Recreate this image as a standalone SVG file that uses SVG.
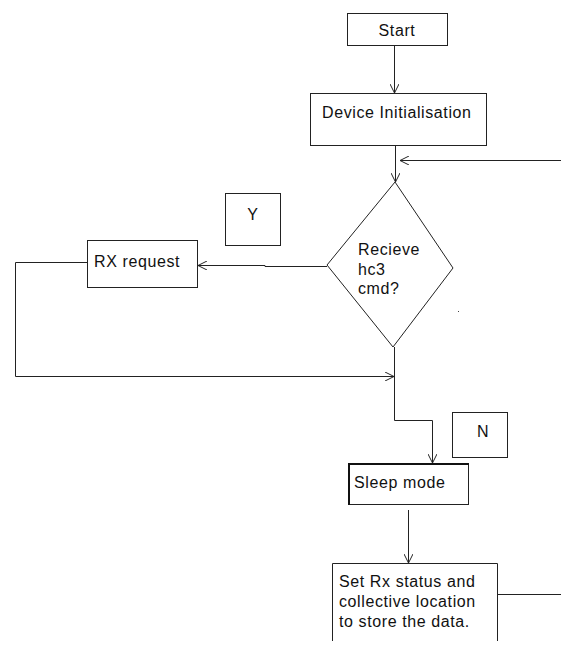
<svg xmlns="http://www.w3.org/2000/svg" width="561" height="650" viewBox="0 0 561 650">
<defs>
<style>
.box{fill:#fff;stroke:#222;stroke-width:1}
.ln{fill:none;stroke:#222;stroke-width:1}
.t{font-family:"Liberation Sans",Arial,sans-serif;font-size:16px;letter-spacing:0.6px;fill:#111}
</style>
<marker id="ah" viewBox="0 0 10 10" refX="10" refY="5" markerWidth="9" markerHeight="9" markerUnits="userSpaceOnUse" orient="auto">
<path d="M0,0 L10,5 L0,10" fill="none" stroke="#222" stroke-width="1.1"/>
</marker>
</defs>
<rect width="561" height="650" fill="#fff"/>
<g id="connectors">
<line class="ln" x1="394.5" y1="45" x2="394.5" y2="93" marker-end="url(#ah)"/>
<line class="ln" x1="395.5" y1="145" x2="395.5" y2="182" marker-end="url(#ah)"/>
<line class="ln" x1="561" y1="160.5" x2="400" y2="160.5" marker-end="url(#ah)"/>
<polyline class="ln" points="327,266.5 265,266.5 265,265.5 198,265.5" marker-end="url(#ah)"/>
<polyline class="ln" points="87,262.5 15.5,262.5 15.5,376.5 394,376.5" marker-end="url(#ah)"/>
<polyline class="ln" points="394.5,347 394.5,420.5 432.5,420.5 432.5,463" marker-end="url(#ah)"/>
<line class="ln" x1="408.5" y1="510" x2="408.5" y2="563" marker-end="url(#ah)"/>
<line class="ln" x1="497" y1="594.5" x2="561" y2="594.5"/>
</g>
<g id="start">
<rect class="box" x="347.5" y="13.5" width="100" height="32"/>
<text class="t" x="397" y="36" text-anchor="middle">Start</text>
</g>
<g id="device-init">
<rect class="box" x="310.5" y="93.5" width="176" height="52"/>
<text class="t" x="322" y="118">Device Initialisation</text>
</g>
<g id="decision">
<polygon class="box" points="395,182 453,268 393,347 327,265"/>
<text class="t" x="358" y="255">Recieve</text>
<text class="t" x="358" y="275">hc3</text>
<text class="t" x="358" y="294">cmd?</text>
</g>
<rect x="458" y="311" width="1" height="1" fill="#444"/>
<g id="label-y">
<rect class="box" x="225.5" y="193.5" width="55" height="52"/>
<text class="t" x="253" y="220" text-anchor="middle">Y</text>
</g>
<g id="rx-request">
<rect class="box" x="87.5" y="240.5" width="110" height="47"/>
<text class="t" x="94" y="267">RX request</text>
</g>
<g id="label-n">
<rect class="box" x="452.5" y="412.5" width="55" height="45"/>
<text class="t" x="483" y="437" text-anchor="middle">N</text>
</g>
<g id="sleep-mode">
<rect class="box" x="348.5" y="463.5" width="120" height="41"/>
<line x1="349" y1="463" x2="349" y2="505" stroke="#111" stroke-width="2"/>
<line x1="348" y1="464" x2="469" y2="464" stroke="#111" stroke-width="2"/>
<text class="t" x="354" y="488">Sleep mode</text>
</g>
<g id="set-rx-status">
<path class="box" d="M332.5,641 V563.5 H497.5 V641"/>
<text class="t" x="339" y="587">Set Rx status and</text>
<text class="t" x="339" y="607">collective location</text>
<text class="t" x="339" y="627">to store the data.</text>
</g>
</svg>
